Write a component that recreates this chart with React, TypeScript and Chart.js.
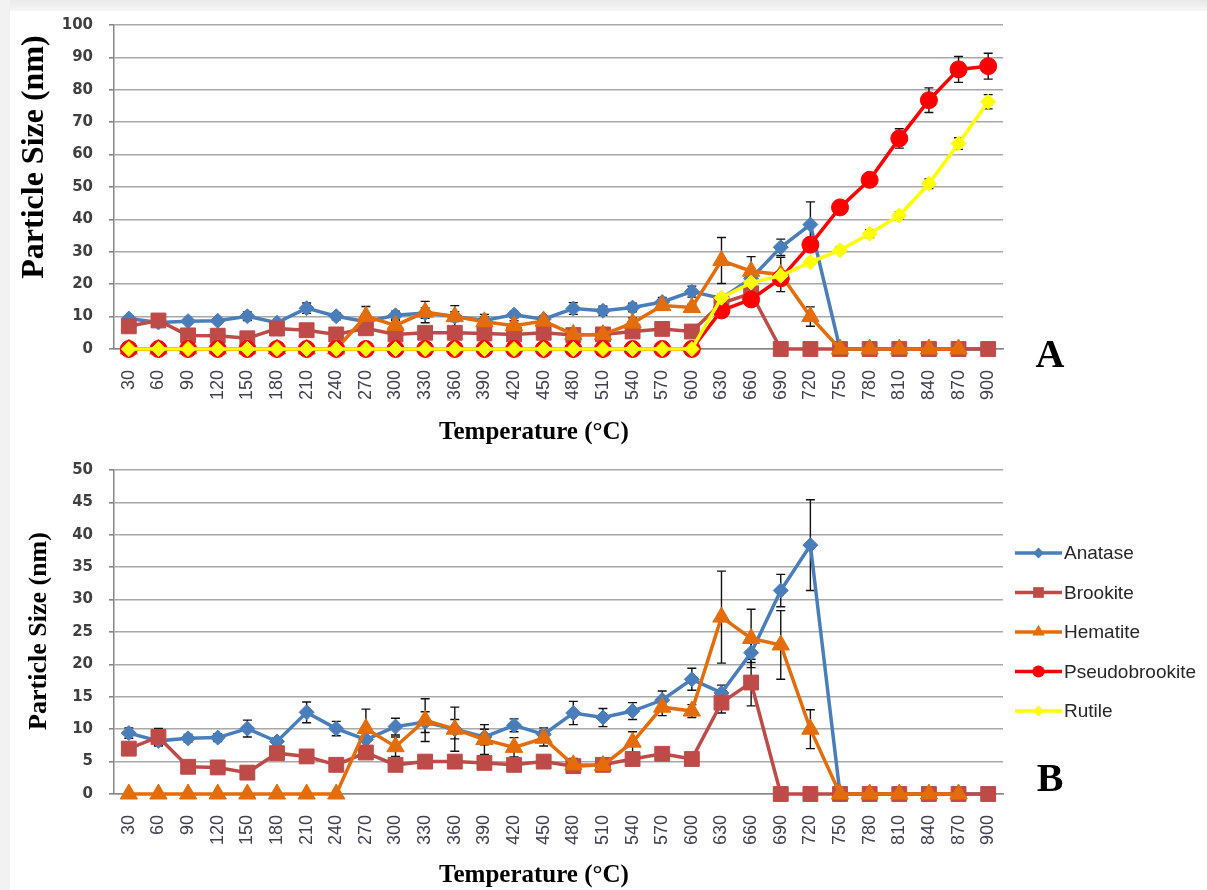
import React, { useEffect, useRef } from "react";
import { Chart, registerables } from "chart.js";
Chart.register(...registerables);

const temperatures = ["30","60","90","120","150","180","210","240","270","300","330","360","390","420","450","480","510","540","570","600","630","660","690","720","750","780","810","840","870","900"];

const anatase = [9.4, 8.2, 8.6, 8.7, 10.1, 8.1, 12.6, 10.1, 8.4, 10.4, 11.1, 10.0, 8.8, 10.6, 9.2, 12.5, 11.8, 12.8, 14.5, 17.7, 15.6, 21.8, 31.4, 38.4, 0, 0, 0, 0, 0, 0];
const anataseErr = [0.8, 0.8, 0.6, 0.6, 1.3, 0.6, 1.6, 1.1, 1.0, 1.3, 1.6, 1.5, 1.2, 1.0, 1.0, 1.8, 1.4, 1.3, 1.4, 1.7, 1.2, 1.5, 2.5, 7.0, 0, 0, 0, 0, 0, 0];
const brookite = [7.0, 8.8, 4.2, 4.1, 3.3, 6.3, 5.8, 4.5, 6.4, 4.5, 5.0, 5.0, 4.8, 4.5, 5.0, 4.3, 4.5, 5.4, 6.2, 5.4, 14.1, 17.2, 0, 0, 0, 0, 0, 0, 0, 0];
const brookiteErr = [0.8, 1.3, 0.5, 0.5, 0.5, 0.8, 0.5, 0.5, 0.8, 0.5, 0.5, 0.5, 0.5, 0.5, 0.5, 0.6, 0.6, 0.7, 0.7, 0.6, 1.6, 3.6, 0, 0, 0, 0, 0, 0, 0, 0];
const hematite = [0, 0, 0, 0, 0, 0, 0, 0, 10.1, 7.3, 11.4, 10.0, 8.4, 7.2, 8.6, 4.5, 4.4, 8.0, 13.4, 12.8, 27.3, 24.0, 23.0, 10.0, 0, 0, 0, 0, 0, null];
const hematiteErr = [0, 0, 0, 0, 0, 0, 0, 0, 3.0, 1.5, 3.3, 3.4, 2.3, 1.5, 1.2, 1.0, 0.8, 1.6, 1.3, 1.0, 7.1, 4.5, 5.3, 3.0, 0, 0, 0, 0, 0, 0];
const pseudobrookite = [0, 0, 0, 0, 0, 0, 0, 0, 0, 0, 0, 0, 0, 0, 0, 0, 0, 0, 0, 0, 11.9, 15.3, 21.8, 32.2, 43.7, 52.2, 65.0, 76.8, 86.3, 87.3];
const pseudobrookiteErr = [0, 0, 0, 0, 0, 0, 0, 0, 0, 0, 0, 0, 0, 0, 0, 0, 0, 0, 0, 0, 1.0, 1.0, 1.5, 2.0, 1.5, 2.0, 3.0, 3.8, 4.0, 4.0];
const rutile = [0, 0, 0, 0, 0, 0, 0, 0, 0, 0, 0, 0, 0, 0, 0, 0, 0, 0, 0, 0, 15.8, 20.5, 22.6, 26.8, 30.5, 35.6, 41.2, 51.0, 63.4, 76.3];
const rutileErr = [0, 0, 0, 0, 0, 0, 0, 0, 0, 0, 0, 0, 0, 0, 0, 0, 0, 0, 0, 0, 0.6, 0.8, 0.8, 1.0, 1.0, 1.2, 1.2, 1.5, 1.8, 2.2];

const seriesNames = ["Anatase", "Brookite", "Hematite", "Pseudobrookite", "Rutile"];
const seriesColors = ["#4A7EBB", "#BE4B48", "#E46C0A", "#FF0000", "#FFFF00"];
const seriesStyles = ["rectRot", "rect", "triangle", "circle", "rectRot"];
const seriesRadius = [7.5, 10.5, 10, 8.5, 7.5];

const yTicksA = { max: 100, step: 10 };
const yTicksB = { max: 50, step: 5 };

function drawMarker(ctx: CanvasRenderingContext2D, style: string, x: number, y: number, r: number) {
  ctx.beginPath();
  if (style === "circle") {
    ctx.arc(x, y, r, 0, Math.PI * 2);
  } else if (style === "rect") {
    const s = r * Math.SQRT1_2;
    ctx.rect(x - s, y - s, 2 * s, 2 * s);
  } else if (style === "rectRot") {
    ctx.moveTo(x, y - r);
    ctx.lineTo(x + r, y);
    ctx.lineTo(x, y + r);
    ctx.lineTo(x - r, y);
    ctx.closePath();
  } else if (style === "triangle") {
    for (let k = 0; k < 3; k++) {
      const a = (k * 2 * Math.PI) / 3;
      const px = x + Math.sin(a) * r;
      const py = y - Math.cos(a) * r;
      if (k === 0) ctx.moveTo(px, py);
      else ctx.lineTo(px, py);
    }
    ctx.closePath();
  }
  ctx.fill();
}

const errorBarPlugin = {
  id: "errorBars",
  beforeDatasetsDraw(chart: any) {
    const ctx = chart.ctx;
    const y = chart.scales.y;
    chart.data.datasets.forEach((ds: any, i: number) => {
      const errs = ds.errors;
      if (!errs) return;
      const meta = chart.getDatasetMeta(i);
      meta.data.forEach((pt: any, j: number) => {
        const v = ds.data[j];
        const e = errs[j];
        if (v == null || !e) return;
        const yTop = y.getPixelForValue(v + e);
        const yBot = y.getPixelForValue(Math.max(0, v - e));
        ctx.save();
        ctx.strokeStyle = "#111";
        ctx.lineWidth = 1.4;
        ctx.beginPath();
        ctx.moveTo(pt.x, yTop);
        ctx.lineTo(pt.x, yBot);
        ctx.moveTo(pt.x - 4.5, yTop);
        ctx.lineTo(pt.x + 4.5, yTop);
        ctx.moveTo(pt.x - 4.5, yBot);
        ctx.lineTo(pt.x + 4.5, yBot);
        ctx.stroke();
        ctx.restore();
      });
    });
  },
};

const textPlugin = {
  id: "texts",
  afterDraw(chart: any, _args: any, opts: any) {
    const ctx = chart.ctx;
    (opts.items || []).forEach((it: any) => {
      ctx.save();
      ctx.translate(it.x, it.y);
      if (it.rotate) ctx.rotate(it.rotate);
      ctx.font = it.font;
      ctx.fillStyle = it.color || "#000";
      ctx.textAlign = "center";
      ctx.textBaseline = "middle";
      ctx.fillText(it.text, 0, 0);
      ctx.restore();
    });
  },
};

const legendPlugin = {
  id: "lineLegend",
  afterDraw(chart: any, _args: any, opts: any) {
    if (!opts.show) return;
    const ctx = chart.ctx;
    chart.data.datasets.forEach((ds: any, i: number) => {
      const y = opts.top + i * opts.spacing;
      ctx.save();
      ctx.strokeStyle = ds.borderColor;
      ctx.lineWidth = 3.5;
      ctx.beginPath();
      ctx.moveTo(opts.left, y);
      ctx.lineTo(opts.left + 47, y);
      ctx.stroke();
      ctx.fillStyle = ds.borderColor;
      drawMarker(ctx, ds.pointStyle, opts.left + 23.5, y, ds.pointRadius * 0.72);
      ctx.fillStyle = "#262626";
      ctx.font = "19px 'Liberation Sans', Arial, sans-serif";
      ctx.textAlign = "left";
      ctx.textBaseline = "middle";
      ctx.fillText(ds.label, opts.left + 49, y + 1);
      ctx.restore();
    });
  },
};

function buildDatasets(full: boolean) {
  const values = [anatase, brookite, hematite, pseudobrookite, rutile];
  const errors = [anataseErr, brookiteErr, hematiteErr, pseudobrookiteErr, rutileErr];
  return seriesNames.map((name, i) => ({
    label: name,
    data: full || i < 3 ? values[i] : [],
    errors: errors[i],
    borderColor: seriesColors[i],
    backgroundColor: seriesColors[i],
    pointBackgroundColor: seriesColors[i],
    pointBorderColor: seriesColors[i],
    pointStyle: seriesStyles[i],
    pointRadius: seriesRadius[i],
    pointBorderWidth: 1,
    borderWidth: 3.5,
    tension: 0,
    clip: false,
    order: 4 - i,
  }));
}

function makeConfig(panel: "A" | "B"): any {
  const yt = panel === "A" ? yTicksA : yTicksB;
  const texts =
    panel === "A"
      ? [
          { text: "Particle Size (nm)", x: 35, y: 157, rotate: -Math.PI / 2, font: "bold 32px 'Liberation Serif', 'Times New Roman', serif" },
          { text: "Temperature (°C)", x: 534, y: 433, font: "bold 25px 'Liberation Serif', 'Times New Roman', serif" },
          { text: "A", x: 1050, y: 357, font: "bold 40px 'Liberation Serif', 'Times New Roman', serif" },
        ]
      : [
          { text: "Particle Size (nm)", x: 39, y: 186, rotate: -Math.PI / 2, font: "bold 26px 'Liberation Serif', 'Times New Roman', serif" },
          { text: "Temperature (°C)", x: 534, y: 431, font: "bold 25px 'Liberation Serif', 'Times New Roman', serif" },
          { text: "B", x: 1050, y: 336, font: "bold 40px 'Liberation Serif', 'Times New Roman', serif" },
        ];
  return {
    type: "line",
    data: { labels: temperatures, datasets: buildDatasets(panel === "A") },
    options: {
      animation: false,
      responsive: false,
      maintainAspectRatio: false,
      layout: { padding: { top: 25, right: 204, left: 0, bottom: 0 } },
      plugins: {
        legend: { display: false },
        tooltip: { enabled: false },
        texts: { items: texts },
        lineLegend: { show: panel === "B", left: 1015, top: 108, spacing: 39.5 },
      },
      scales: {
        x: {
          type: "category",
          offset: true,
          grid: { display: false, drawTicks: false },
          border: { display: true, color: "#868686", width: 1.5 },
          ticks: {
            autoSkip: false,
            minRotation: 90,
            maxRotation: 90,
            padding: 21,
            color: "#404050",
            font: { family: "'Liberation Sans', Arial, sans-serif", size: 18 },
          },
          afterFit: (s: any) => {
            s.height = 96;
          },
        },
        y: {
          min: 0,
          max: yt.max,
          ticks: {
            stepSize: yt.step,
            padding: 16,
            color: "#404040",
            font: { family: "'DejaVu Sans', sans-serif", size: 15, weight: "bold" },
          },
          grid: { color: "#a8a8a8", lineWidth: 1.6, tickLength: 5, tickColor: "#868686" },
          border: { display: true, color: "#868686", width: 1.5 },
          afterFit: (s: any) => {
            s.width = 114;
          },
        },
      },
    },
    plugins: [errorBarPlugin, textPlugin, legendPlugin],
  };
}

function Panel({ panel, top }: { panel: "A" | "B"; top: number }) {
  const ref = useRef<HTMLCanvasElement | null>(null);
  useEffect(() => {
    if (!ref.current) return;
    const chart = new Chart(ref.current, makeConfig(panel));
    return () => chart.destroy();
  }, [panel]);
  return (
    <canvas
      ref={ref}
      width={1207}
      height={445}
      style={{ position: "absolute", left: 0, top, width: 1207, height: 445 }}
    />
  );
}

export default function App() {
  useEffect(() => {
    document.body.style.margin = "0";
    document.body.style.overflow = "hidden";
  }, []);
  return (
    <div style={{ position: "absolute", left: 0, top: 0, width: 1207, height: 890, background: "#fff", overflow: "hidden" }}>
      <div style={{ position: "absolute", left: 0, top: 0, width: 1207, height: 11, background: "linear-gradient(#e9e9e9, #f6f6f6)" }} />
      <div style={{ position: "absolute", left: 0, top: 0, width: 10, height: 890, background: "#f2f2f2" }} />
      <Panel panel="A" top={0} />
      <Panel panel="B" top={445} />
    </div>
  );
}
